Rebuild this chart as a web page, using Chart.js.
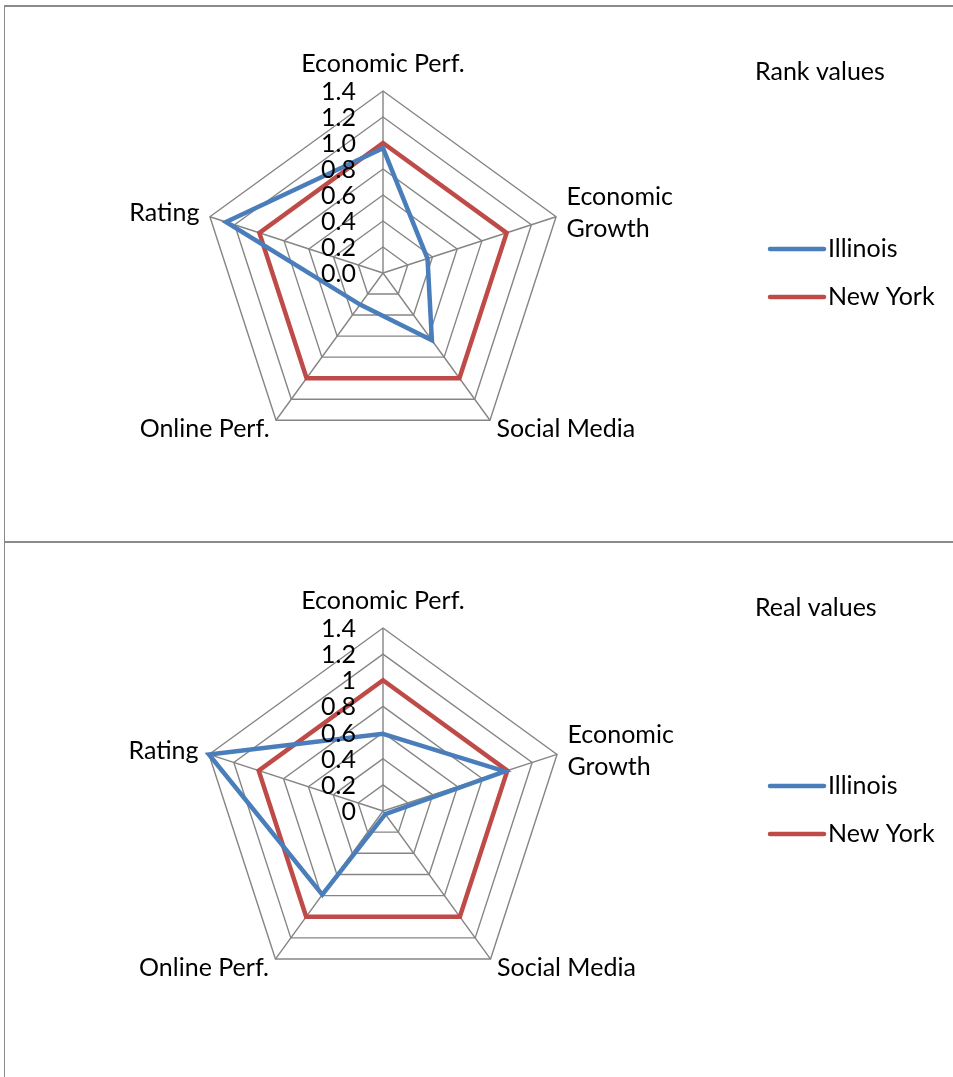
<!DOCTYPE html>
<html>
<head>
<meta charset="utf-8">
<script src="https://cdn.jsdelivr.net/npm/chart.js@4.4.1/dist/chart.umd.min.js"></script>
<style>
  body { margin: 0; background: #fff; }
  #page { position: relative; width: 953px; height: 1077px; overflow: hidden; }
  .box { position: absolute; left: 4px; width: 980px; border-left: 1px solid #8a8a8a; border-top: 2px solid #8a8a8a; }
  #box1 { top: 5px; height: 540px; }
  #box2 { top: 541px; height: 600px; }
  canvas { position: absolute; left: 0; }
  #rankChart { top: 0; }
  #realChart { top: 542px; }
</style>
</head>
<body>
<div id="page">
  <div class="box" id="box1"></div>
  <div class="box" id="box2"></div>
  <canvas id="rankChart" width="953" height="542"></canvas>
  <canvas id="realChart" width="953" height="535"></canvas>
</div>
<script>
// categories clockwise from the top
const categories = ['Economic Perf.', ['Economic', 'Growth'], 'Social Media', 'Online Perf.', 'Rating'];

const rankIllinois = [0.96, 0.36, 0.64, 0.30, 1.27];
const rankNewYork = [1.0, 1.0, 1.0, 1.0, 1.0];

const realIllinois = [0.59, 0.98, 0.03, 0.79, 1.4];
const realNewYork = [1, 1, 1, 1, 1];

const tickValues = [0, 0.2, 0.4, 0.6, 0.8, 1.0, 1.2, 1.4];
const rankTickLabels = ['0.0', '0.2', '0.4', '0.6', '0.8', '1.0', '1.2', '1.4'];
const realTickLabels = ['0', '0.2', '0.4', '0.6', '0.8', '1', '1.2', '1.4'];

const BLUE = '#4a7ebb';
const RED = '#be4b48';
const GRID = '#858585';
const FONT = 'Lato, "Open Sans", sans-serif';

// draws tick numbers, category names, title and legend
const radarText = {
  id: 'radarText',
  afterDraw(chart, args, opts) {
    const ctx = chart.ctx;
    const r = chart.scales.r;
    ctx.save();
    ctx.fillStyle = '#000';
    ctx.font = opts.size + 'px ' + FONT;

    // tick numbers sit left of the vertical axis
    ctx.textAlign = 'right';
    ctx.textBaseline = 'middle';
    tickValues.forEach((v, i) => {
      const y = r.yCenter - r.getDistanceFromCenterForValue(v);
      ctx.fillText(opts.tickLabels[i], r.xCenter - 27, y + 1);
    });

    // category names just outside the outer ring
    chart.data.labels.forEach((label, i) => {
      const p = r.getPointPosition(i, r.drawingArea + 11);
      const dx = p.x - r.xCenter;
      const lines = [].concat(label);
      const lh = opts.lineHeight;
      ctx.textAlign = Math.abs(dx) < 1 ? 'center' : (dx > 0 ? 'left' : 'right');
      let y = p.y - (lines.length - 1) * lh / 2;
      if (Math.abs(dx) < 1) y -= lh / 2;
      lines.forEach((t, k) => ctx.fillText(t, p.x, y + k * lh));
    });

    // title + legend
    ctx.textAlign = 'left';
    ctx.fillText(opts.title, opts.legendX - 15, opts.titleY);
    chart.data.datasets.forEach((ds, i) => {
      const y = opts.legendY + i * 48;
      ctx.strokeStyle = ds.borderColor;
      ctx.lineWidth = 4.5;
      ctx.lineCap = 'round';
      ctx.beginPath();
      ctx.moveTo(opts.legendX, y);
      ctx.lineTo(opts.legendX + 54, y);
      ctx.stroke();
      ctx.fillText(ds.label, opts.legendX + 58, y);
    });
    ctx.restore();
  }
};

const makeRadar = (id, illinois, newYork, text, padding) => {
  const ctx = document.getElementById(id).getContext('2d');
  return new Chart(ctx, {
    type: 'radar',
    data: {
      labels: categories,
      datasets: [
        { label: 'Illinois', data: illinois, borderColor: BLUE, borderWidth: 4.5, fill: false },
        { label: 'New York', data: newYork, borderColor: RED, borderWidth: 4.5, fill: false }
      ]
    },
    options: {
      responsive: false,
      animation: false,
      devicePixelRatio: 1,
      layout: { padding: padding },
      elements: {
        point: { radius: 0, hoverRadius: 0 },
        line: { tension: 0, borderJoinStyle: 'miter' }
      },
      scales: {
        r: {
          min: 0,
          max: 1.4,
          ticks: { display: false, stepSize: 0.2 },
          grid: { color: GRID, lineWidth: 1.4 },
          angleLines: { color: GRID, lineWidth: 1.4 },
          pointLabels: { display: false }
        }
      },
      plugins: {
        legend: { display: false },
        tooltip: { enabled: false },
        radarText: text
      }
    },
    plugins: [radarText]
  });
};

makeRadar('rankChart', rankIllinois, rankNewYork,
  { title: 'Rank values', tickLabels: rankTickLabels, size: 25, lineHeight: 32, legendX: 770, titleY: 72, legendY: 249 },
  { left: 201, right: 388, top: 91, bottom: 87 });

makeRadar('realChart', realIllinois, realNewYork,
  { title: 'Real values', tickLabels: realTickLabels, size: 25, lineHeight: 32, legendX: 770, titleY: 66, legendY: 244 },
  { left: 200, right: 387, top: 86, bottom: 83 });
</script>
</body>
</html>
